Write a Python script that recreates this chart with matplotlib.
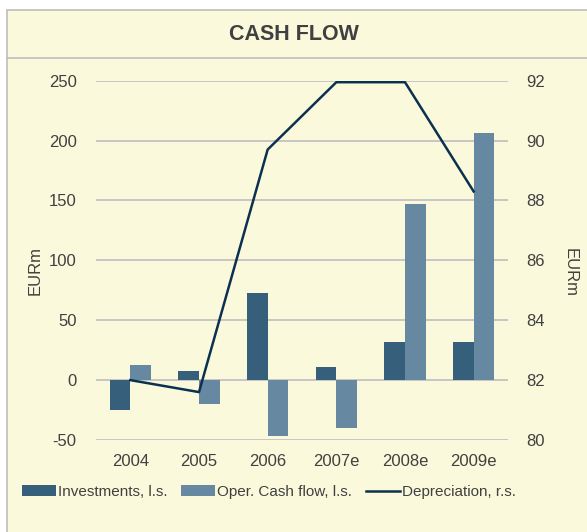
import matplotlib.pyplot as plt
import numpy as np
from matplotlib.patches import Rectangle
from matplotlib.lines import Line2D

plt.rcParams['font.family'] = ['Liberation Sans', 'DejaVu Sans']
plt.rcParams['axes.unicode_minus'] = False

years = ["2004", "2005", "2006", "2007e", "2008e", "2009e"]
investments = [-25, 7.5, 73, 11, 32, 32]
oper_cash_flow = [13, -20, -47, -40, 147, 206]
depreciation = [82.0, 81.6, 89.7, 91.95, 91.95, 88.3]

bg = "#FBF9DC"
txt = "#404040"
grid = "#BEBEBE"
c_inv = "#355F7B"
c_ocf = "#6688A0"
c_dep = "#0B3050"

fig = plt.figure(figsize=(5.87, 5.32), dpi=100)
fig.patch.set_facecolor("white")

# panel background and borders
fig.patches.append(Rectangle((7 / 587, -0.1), 1.2, 1 - 10 / 532 + 0.1,
                             transform=fig.transFigure, facecolor=bg,
                             edgecolor=grid, linewidth=1.2, zorder=-10))
fig.lines.append(Line2D([7 / 587, 1.0], [1 - 58 / 532, 1 - 58 / 532],
                        transform=fig.transFigure, color=grid, linewidth=1.2, zorder=-9))
fig.text(0.5, 1 - 35 / 532, "CASH FLOW", ha="center", va="center",
         fontsize=15.5, fontweight="bold", color=txt)

ax = fig.add_axes([96 / 587, 1 - 440 / 532, (508 - 96) / 587, (440 - 80.7) / 532])
ax.set_facecolor("none")
x = np.arange(len(years))
w = 0.3
ax.bar(x - w / 2, investments, w, color=c_inv, label="Investments, l.s.", zorder=2)
ax.bar(x + w / 2, oper_cash_flow, w, color=c_ocf, label="Oper. Cash flow, l.s.", zorder=2)
ax.set_ylim(-50, 250)
ax.set_yticks(range(-50, 251, 50))
ax.set_xlim(-0.5, len(years) - 0.5)
ax.set_xticks(x)
ax.set_xticklabels(years)
ax.yaxis.grid(True, color=grid, linewidth=1.2, zorder=0)
ax.set_axisbelow(True)
ax.tick_params(axis="both", length=0, labelsize=12, colors=txt)
ax.tick_params(axis="y", pad=14)
ax.tick_params(axis="x", pad=10)
for s in ax.spines.values():
    s.set_visible(False)

ax2 = ax.twinx()
ax2.plot(x, depreciation, color=c_dep, linewidth=1.8, label="Depreciation, r.s.", zorder=3)
ax2.set_ylim(80, 92)
ax2.set_yticks(range(80, 93, 2))
ax2.tick_params(axis="y", length=0, labelsize=12, colors=txt, pad=13)
for s in ax2.spines.values():
    s.set_visible(False)

fig.text(35 / 587, 1 - 270 / 532, "EURm", rotation=90, ha="center", va="center",
         fontsize=12, color=txt)
fig.text(570 / 587, 1 - 273 / 532, "EURm", rotation=270, ha="center", va="center",
         fontsize=12, color=txt)

h1, l1 = ax.get_legend_handles_labels()
h2, l2 = ax2.get_legend_handles_labels()
fig.legend(h1 + h2, l1 + l2, loc="center", bbox_to_anchor=(269 / 587, 1 - 492 / 532),
           ncol=3, frameon=False, fontsize=11, handlelength=2.2, handleheight=0.7,
           handletextpad=0.15, columnspacing=0.9, labelcolor=txt,
           borderpad=0, borderaxespad=0)

fig.savefig("out.png", dpi=100, facecolor=fig.get_facecolor())
